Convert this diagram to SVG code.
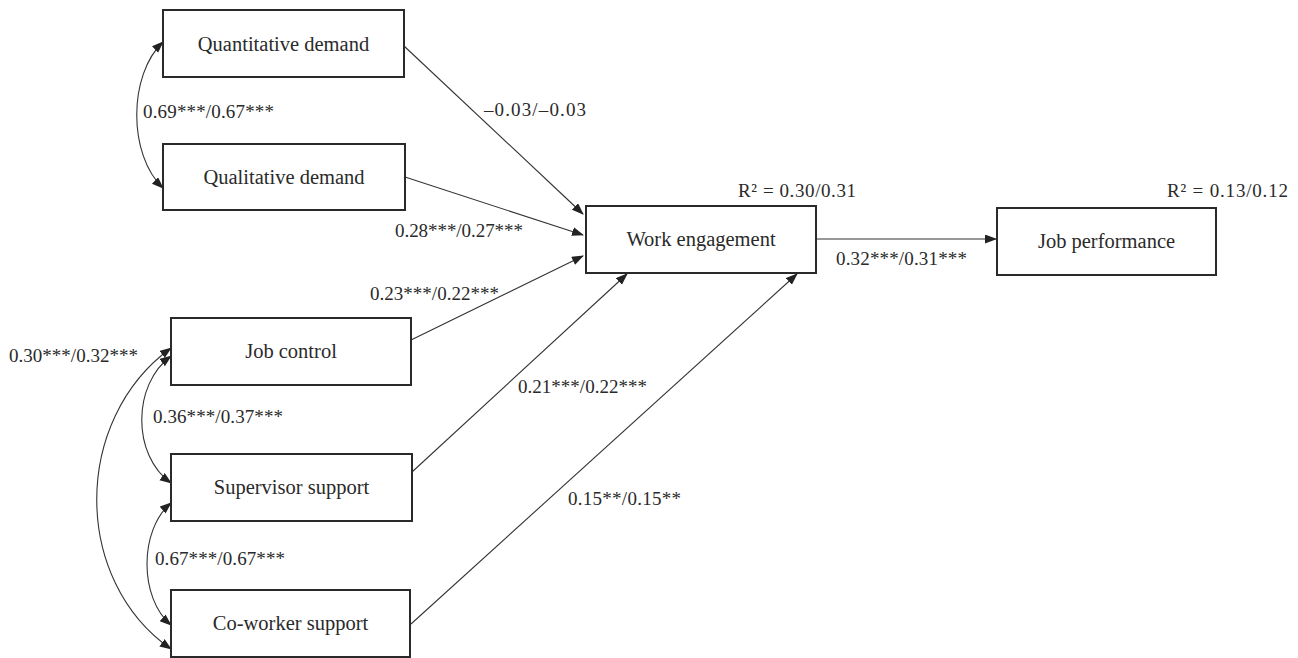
<svg xmlns="http://www.w3.org/2000/svg" width="1298" height="658" viewBox="0 0 1298 658">
<style>
.box{fill:#fff;stroke:#2a2a2a;stroke-width:2}
.nl{font-family:"Liberation Serif",serif;font-size:20.5px;fill:#2a2a2a;text-anchor:middle}
.lb{font-family:"Liberation Serif",serif;font-size:19px;fill:#2a2a2a}
.ln{fill:none;stroke:#333;stroke-width:1.1}
.ar{marker-end:url(#ah)}
.dr{marker-start:url(#ah);marker-end:url(#ah)}
</style>
<defs>
<marker id="ah" markerUnits="userSpaceOnUse" markerWidth="12" markerHeight="10" refX="11" refY="4.5" orient="auto-start-reverse" viewBox="0 0 12 10">
<path d="M0,0 L12,4.5 L0,9 z" fill="#222"/>
</marker>
</defs>
<rect width="1298" height="658" fill="#fff"/>
<g id="connectors">
<path class="ln ar" d="M404,46 L583,214"/>
<path class="ln ar" d="M405,177 L583,235"/>
<path class="ln ar" d="M411,340 L583,256"/>
<path class="ln ar" d="M412,472 L627,274"/>
<path class="ln ar" d="M411,624 L797,274"/>
<path class="ln ar" d="M817,239 L996,239"/>
<path class="ln dr" d="M163,42 C128,75 128,155 163,188"/>
<path class="ln dr" d="M171,356 C132,385 132,455 171,483"/>
<path class="ln dr" d="M171,503 C139,530 139,598 171,625"/>
<path class="ln dr" d="M171,348 C72,420 72,580 171,649"/>
</g>
<g id="labels">
<text class="lb" x="484" y="116" textLength="102" lengthAdjust="spacing">–0.03/–0.03</text>
<text class="lb" x="395" y="237" textLength="128" lengthAdjust="spacing">0.28***/0.27***</text>
<text class="lb" x="370" y="300" textLength="129" lengthAdjust="spacing">0.23***/0.22***</text>
<text class="lb" x="518" y="393" textLength="129" lengthAdjust="spacing">0.21***/0.22***</text>
<text class="lb" x="568" y="505" textLength="113" lengthAdjust="spacing">0.15**/0.15**</text>
<text class="lb" x="836" y="265" textLength="131" lengthAdjust="spacing">0.32***/0.31***</text>
<text class="lb" x="143" y="118" textLength="131" lengthAdjust="spacing">0.69***/0.67***</text>
<text class="lb" x="9" y="362" textLength="129" lengthAdjust="spacing">0.30***/0.32***</text>
<text class="lb" x="153" y="423" textLength="130" lengthAdjust="spacing">0.36***/0.37***</text>
<text class="lb" x="155" y="565" textLength="130" lengthAdjust="spacing">0.67***/0.67***</text>
<text class="lb" x="738" y="197" textLength="118" lengthAdjust="spacing">R² = 0.30/0.31</text>
<text class="lb" x="1167" y="197" textLength="121" lengthAdjust="spacing">R² = 0.13/0.12</text>
</g>
<g id="quantitative-demand">
<rect class="box" x="163" y="10" width="241" height="67"/>
<text class="nl" x="283.5" y="51">Quantitative demand</text>
</g>
<g id="qualitative-demand">
<rect class="box" x="163" y="144" width="242" height="66"/>
<text class="nl" x="284" y="184">Qualitative demand</text>
</g>
<g id="job-control">
<rect class="box" x="171" y="318" width="240" height="67"/>
<text class="nl" x="291" y="358">Job control</text>
</g>
<g id="supervisor-support">
<rect class="box" x="171" y="454" width="241" height="67"/>
<text class="nl" x="291.5" y="494">Supervisor support</text>
</g>
<g id="co-worker-support">
<rect class="box" x="171" y="590" width="239" height="67"/>
<text class="nl" x="290.5" y="630">Co-worker support</text>
</g>
<g id="work-engagement">
<rect class="box" x="586" y="206" width="230" height="67"/>
<text class="nl" x="701" y="246">Work engagement</text>
</g>
<g id="job-performance">
<rect class="box" x="997" y="208" width="219" height="67"/>
<text class="nl" x="1106.5" y="248">Job performance</text>
</g>
</svg>
